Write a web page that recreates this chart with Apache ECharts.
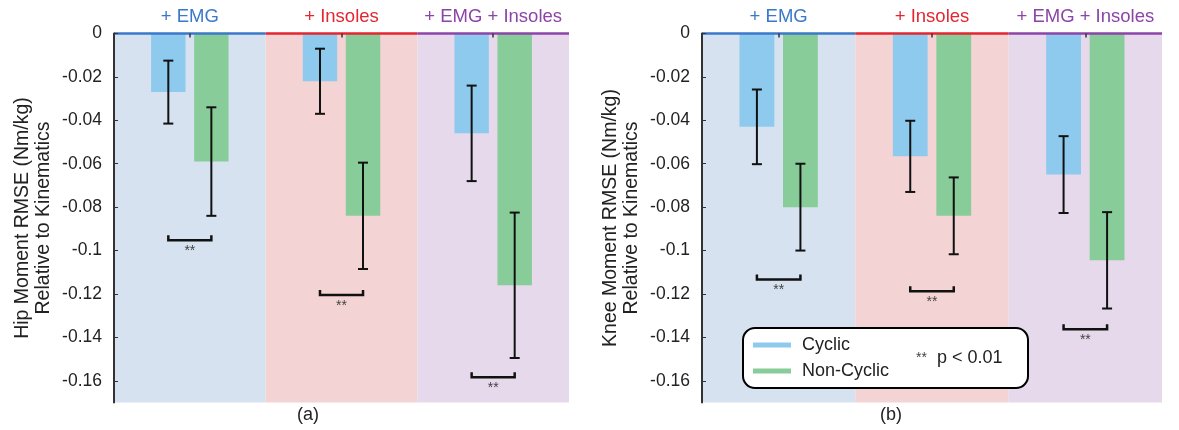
<!DOCTYPE html>
<html>
<head>
<meta charset="utf-8">
<script src="https://cdn.jsdelivr.net/npm/echarts@6/dist/echarts.min.js"></script>
<style>
  html, body { margin: 0; padding: 0; background: #fff; }
  #chart { width: 1179px; height: 430px; }
</style>
</head>
<body>
<div id="chart"></div>
<script>
// categories and values
var groups = ['+ EMG', '+ Insoles', '+ EMG + Insoles'];
var yTicks = [0, -0.02, -0.04, -0.06, -0.08, -0.1, -0.12, -0.14, -0.16];

var hipCyclic = [-0.027, -0.022, -0.046];
var hipCyclicErr = [0.0145, 0.015, 0.022];
var hipNonCyclic = [-0.059, -0.084, -0.116];
var hipNonCyclicErr = [0.025, 0.0245, 0.0335];
var hipSig = [-0.0952, -0.1205, -0.1584];

var kneeCyclic = [-0.043, -0.0566, -0.065];
var kneeCyclicErr = [0.0172, 0.0164, 0.0177];
var kneeNonCyclic = [-0.080, -0.084, -0.1045];
var kneeNonCyclicErr = [0.020, 0.0177, 0.0222];
var kneeSig = [-0.1133, -0.1187, -0.1362];

var Y_MIN = -0.17;
var groupColors = ['#3b78c9', '#e32630', '#8d44a8'];
var bandColors = ['#d6e2f0', '#f4d3d5', '#e5d9eb'];
var cyclicColor = '#8ecaee';
var nonCyclicColor = '#88cc99';
var FONT = 'Liberation Sans, Arial, sans-serif';

// bar layout: width 22.7% of band, gap 25% of bar width
var BAR_W = 0.227, BAR_GAP = 0.25;
var OFF = BAR_W * (1 + BAR_GAP) / 2;

document.addEventListener('DOMContentLoaded', function () {
  var myChart = echarts.init(document.getElementById('chart'));

  function idxData(vals, extra) {
    return vals.map(function (v, i) { return extra ? [i, v, extra[i]] : [i, v]; });
  }

  // 背景色块
  function bandSeries(ax) {
    return {
      type: 'custom', xAxisIndex: ax, yAxisIndex: ax, z: 1, silent: true,
      data: idxData([0, 0, 0]),
      encode: { x: 0, y: 1 },
      renderItem: function (params, api) {
        var i = api.value(0);
        var band = api.size([1, 0])[0];
        var c = api.coord([i, 0]);
        var b = api.coord([i, Y_MIN]);
        return {
          type: 'rect',
          shape: { x: c[0] - band / 2, y: c[1], width: band, height: b[1] - c[1] },
          style: { fill: bandColors[i] }
        };
      }
    };
  }

  // 顶部彩色轴线
  function topLineSeries(ax) {
    return {
      type: 'custom', xAxisIndex: ax, yAxisIndex: ax, z: 5, silent: true,
      data: idxData([0, 0, 0]),
      encode: { x: 0, y: 1 },
      renderItem: function (params, api) {
        var i = api.value(0);
        var band = api.size([1, 0])[0];
        var c = api.coord([i, 0]);
        return {
          type: 'line',
          shape: { x1: c[0] - band / 2, y1: c[1], x2: c[0] + band / 2, y2: c[1] },
          style: { stroke: groupColors[i], lineWidth: 2.5 }
        };
      }
    };
  }

  // 误差线
  function errSeries(ax, vals, errs, side) {
    return {
      type: 'custom', xAxisIndex: ax, yAxisIndex: ax, z: 4, silent: true,
      data: idxData(vals, errs),
      encode: { x: 0, y: 1 },
      renderItem: function (params, api) {
        var i = api.value(0);
        var band = api.size([1, 0])[0];
        var x = api.coord([i, 0])[0] + side * band * OFF;
        var t = api.coord([i, api.value(1) + api.value(2)])[1];
        var b = api.coord([i, api.value(1) - api.value(2)])[1];
        var st = { stroke: '#111', lineWidth: 2 };
        return {
          type: 'group',
          children: [
            { type: 'line', shape: { x1: x, y1: t, x2: x, y2: b }, style: st },
            { type: 'line', shape: { x1: x - 5, y1: t, x2: x + 5, y2: t }, style: st },
            { type: 'line', shape: { x1: x - 5, y1: b, x2: x + 5, y2: b }, style: st }
          ]
        };
      }
    };
  }

  // 显著性标记
  function sigSeries(ax, vals) {
    return {
      type: 'custom', xAxisIndex: ax, yAxisIndex: ax, z: 4, silent: true,
      data: idxData(vals),
      encode: { x: 0, y: 1 },
      renderItem: function (params, api) {
        var i = api.value(0);
        var band = api.size([1, 0])[0];
        var c = api.coord([i, api.value(1)]);
        var x1 = c[0] - band * OFF, x2 = c[0] + band * OFF, y = c[1];
        return {
          type: 'group',
          children: [
            { type: 'polyline', shape: { points: [[x1, y - 5], [x1, y], [x2, y], [x2, y - 5]] },
              style: { stroke: '#111', lineWidth: 2.5, fill: null } },
            { type: 'text', x: c[0], y: y + 11,
              style: { text: '**', align: 'center', verticalAlign: 'middle', fontSize: 14, fill: '#444', fontFamily: FONT } }
          ]
        };
      }
    };
  }

  function barSeries(ax, name, vals, color) {
    return {
      type: 'bar', name: name, xAxisIndex: ax, yAxisIndex: ax, z: 2,
      data: vals, barWidth: (BAR_W * 100) + '%', barGap: (BAR_GAP * 100) + '%',
      itemStyle: { color: color }
    };
  }

  function xAxisFor(grid) {
    return {
      type: 'category', gridIndex: grid, data: groups, position: 'top',
      axisLine: { show: false },
      axisTick: { show: true, alignWithLabel: true, inside: true, length: 4, lineStyle: { color: '#333', width: 1.5 } },
      axisLabel: {
        interval: 0, hideOverlap: false,
        margin: 7, fontSize: 18.5, fontFamily: FONT,
        color: function (v, i) { return groupColors[groups.indexOf(v)]; }
      },
      z: 10
    };
  }

  function yAxisFor(grid, name) {
    return {
      type: 'value', gridIndex: grid, min: Y_MIN, max: 0,
      name: name, nameLocation: 'middle', nameGap: 60, nameRotate: 90,
      nameTextStyle: { fontSize: 19.5, color: '#222', fontFamily: FONT, lineHeight: 21 },
      axisLine: { show: true, lineStyle: { color: '#333', width: 2 } },
      axisTick: { show: true, inside: true, length: 4, customValues: yTicks, lineStyle: { color: '#333' } },
      axisLabel: { fontSize: 17.5, color: '#222', fontFamily: FONT, margin: 12, customValues: yTicks },
      splitLine: { show: false },
      z: 10
    };
  }

  var option = {
    animation: false,
    grid: [
      { left: 114, top: 33.5, width: 455, bottom: 27.5 },
      { left: 702, top: 33.5, width: 460, bottom: 27.5 }
    ],
    xAxis: [xAxisFor(0), xAxisFor(1)],
    yAxis: [
      yAxisFor(0, 'Hip Moment RMSE (Nm/kg)\nRelative to Kinematics'),
      yAxisFor(1, 'Knee Moment RMSE (Nm/kg)\nRelative to Kinematics')
    ],
    legend: {
      data: ['Cyclic', 'Non-Cyclic'],
      orient: 'vertical', left: 743, top: 328,
      icon: 'rect', itemWidth: 38, itemHeight: 5, itemGap: 8,
      padding: [8, 139, 8, 10],
      backgroundColor: '#fff', borderColor: '#000', borderWidth: 2, borderRadius: 12,
      textStyle: { fontSize: 18, color: '#222', fontFamily: FONT, padding: [0, 0, 0, 6] },
      selectedMode: false,
      z: 20
    },
    graphic: [
      { type: 'text', x: 308, y: 415, z: 30,
        style: { text: '(a)', align: 'center', verticalAlign: 'middle', fontSize: 18, fill: '#222', fontFamily: FONT } },
      { type: 'text', x: 891, y: 415, z: 30,
        style: { text: '(b)', align: 'center', verticalAlign: 'middle', fontSize: 18, fill: '#222', fontFamily: FONT } },
      { type: 'text', x: 916, y: 358, z: 30,
        style: {
          text: '{s|**}   {p|p < 0.01}', verticalAlign: 'middle', fontFamily: FONT,
          rich: { s: { fontSize: 14, fill: '#444', fontFamily: FONT }, p: { fontSize: 18, fill: '#222', fontFamily: FONT } }
        } }
    ],
    series: [
      bandSeries(0), topLineSeries(0),
      barSeries(0, 'Cyclic', hipCyclic, cyclicColor),
      barSeries(0, 'Non-Cyclic', hipNonCyclic, nonCyclicColor),
      errSeries(0, hipCyclic, hipCyclicErr, -1),
      errSeries(0, hipNonCyclic, hipNonCyclicErr, 1),
      sigSeries(0, hipSig),

      bandSeries(1), topLineSeries(1),
      barSeries(1, 'Cyclic', kneeCyclic, cyclicColor),
      barSeries(1, 'Non-Cyclic', kneeNonCyclic, nonCyclicColor),
      errSeries(1, kneeCyclic, kneeCyclicErr, -1),
      errSeries(1, kneeNonCyclic, kneeNonCyclicErr, 1),
      sigSeries(1, kneeSig)
    ]
  };

  myChart.setOption(option);

  window.addEventListener('resize', function () {
    myChart.resize();
  });
});
</script>
</body>
</html>
